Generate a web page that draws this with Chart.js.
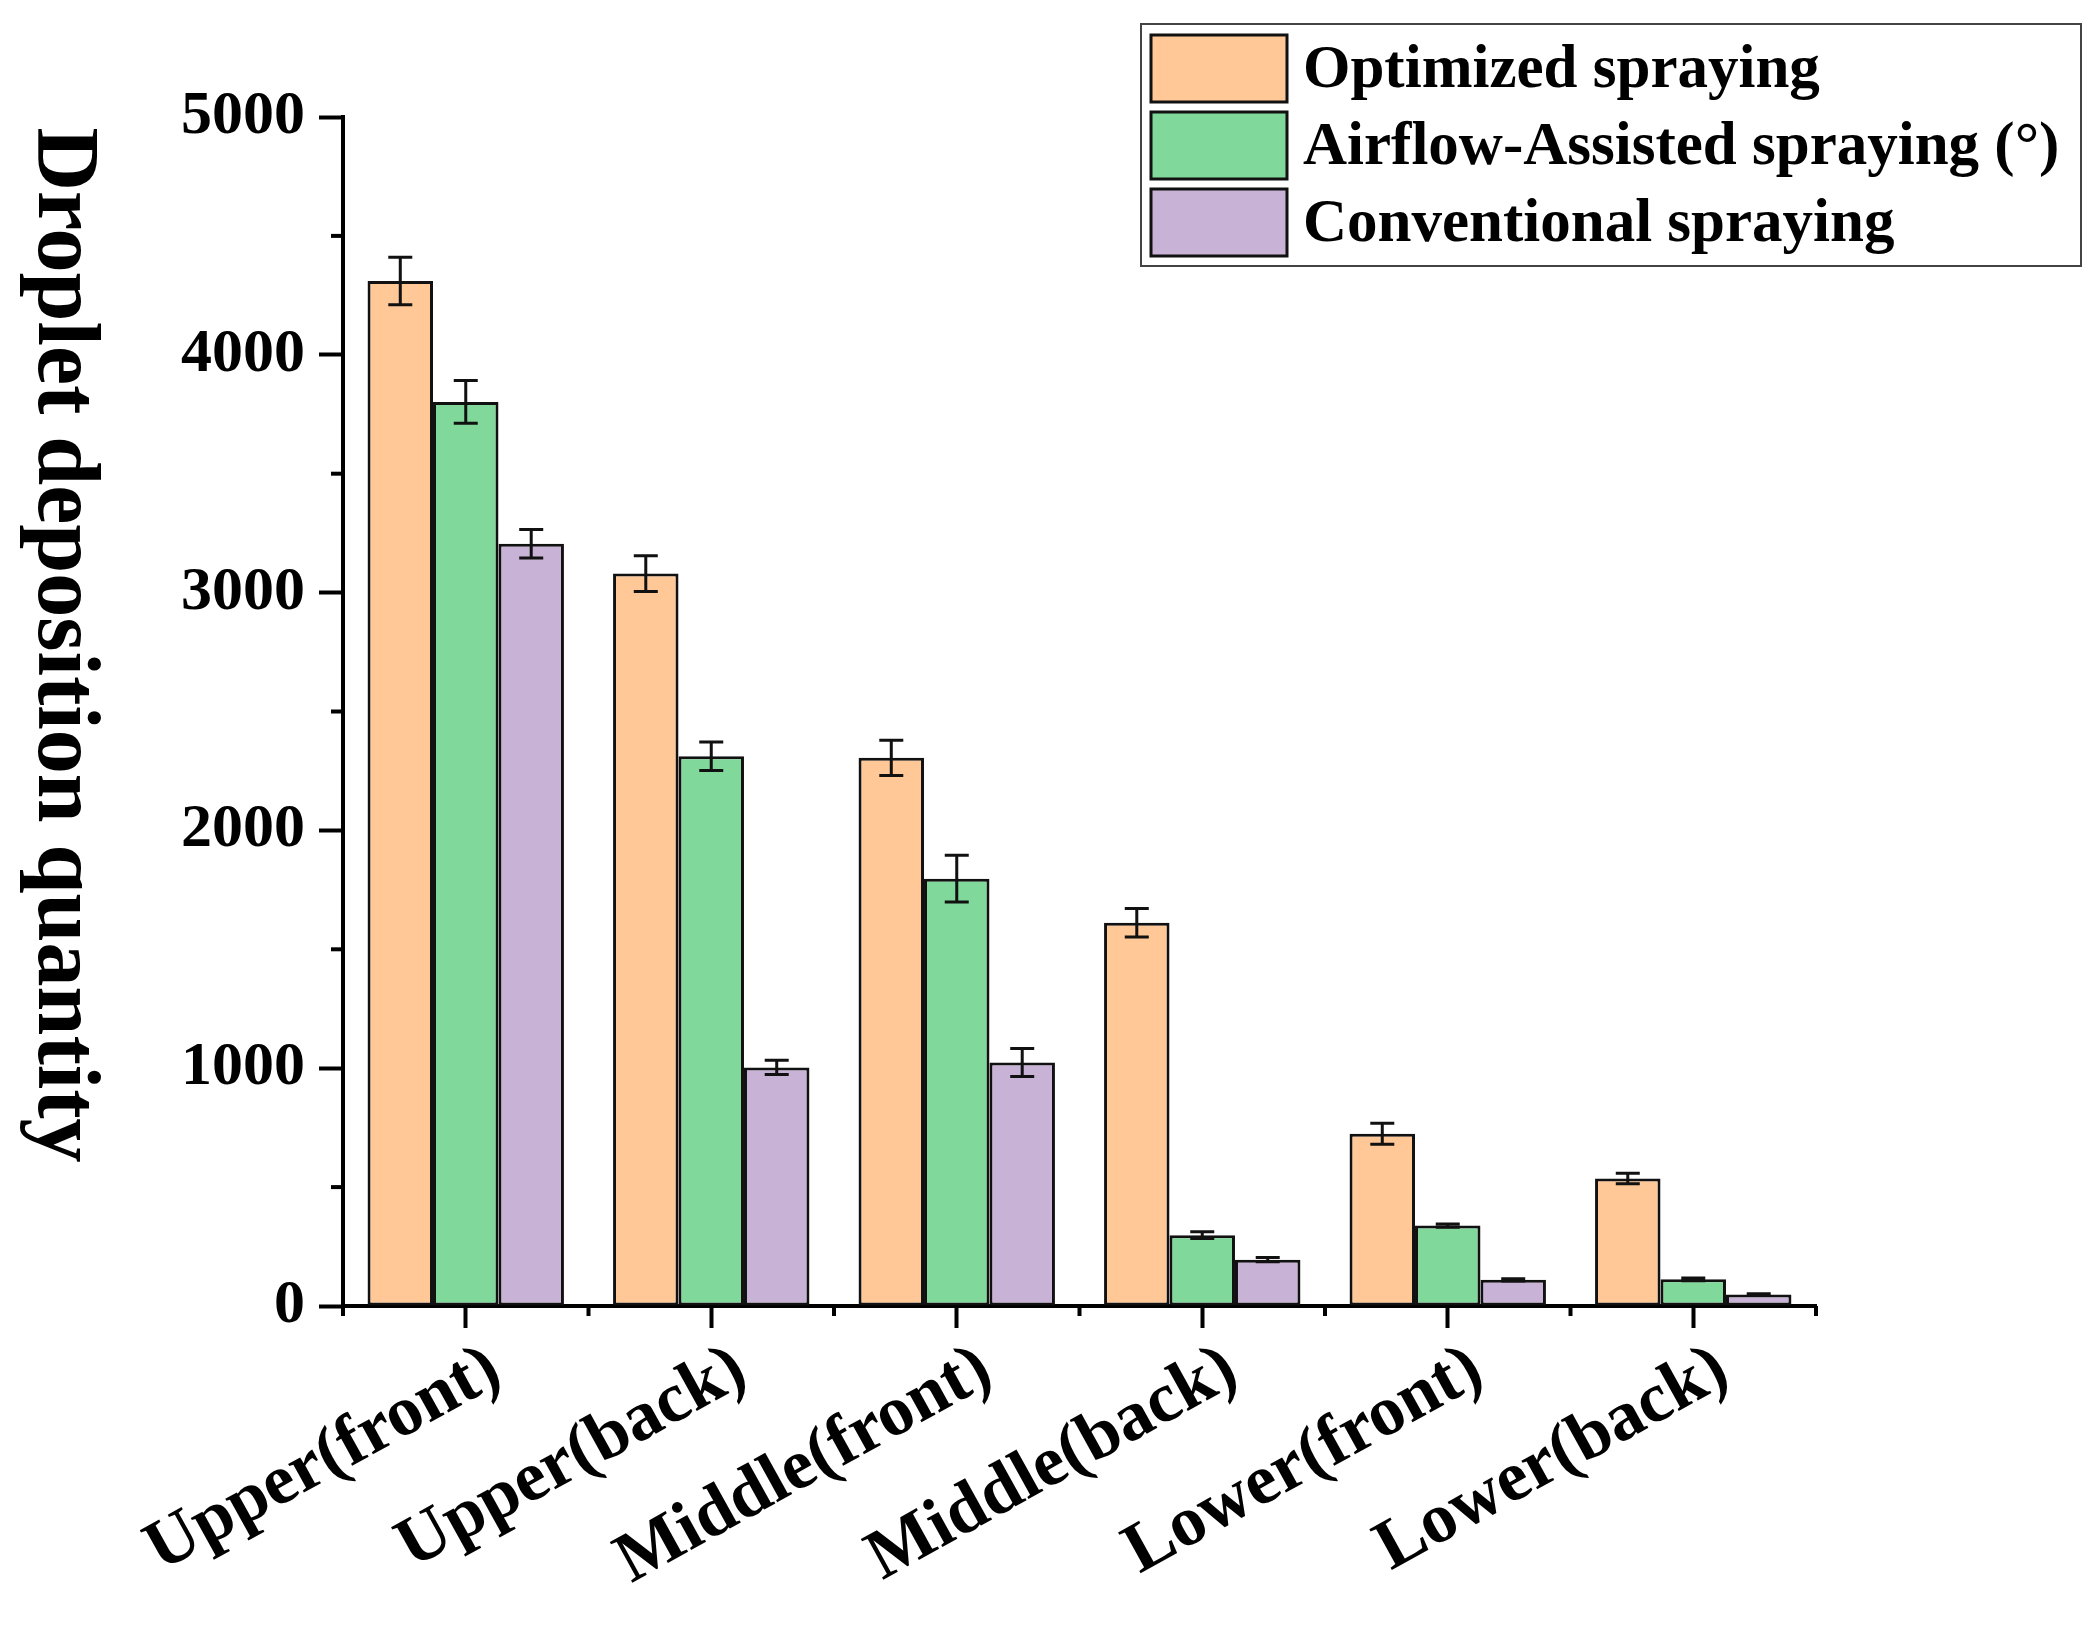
<!DOCTYPE html>
<html>
<head>
<meta charset="utf-8">
<script src="https://cdn.jsdelivr.net/npm/chart.js@4.4.1/dist/chart.umd.min.js"></script>
<style>
  html, body { margin: 0; padding: 0; background: #fff; }
  #chart { display: block; }
</style>
</head>
<body>
<canvas id="chart" width="2096" height="1625"></canvas>
<script>
const categories = ['Upper(front)', 'Upper(back)', 'Middle(front)', 'Middle(back)', 'Lower(front)', 'Lower(back)'];
const seriesNames = ['Optimized spraying', 'Airflow-Assisted spraying (°)', 'Conventional spraying'];
const seriesColors = ['#FFC896', '#80D89A', '#C8B2D6'];

const optimized = [4310, 3080, 2305, 1612, 724, 536];
const airflow = [3802, 2312, 1797, 298, 338, 112];
const conventional = [3205, 1003, 1024, 195, 110, 48];

const optimizedErr = [100, 75, 74, 60, 44, 22];
const airflowErr = [90, 60, 98, 14, 7, 6];
const conventionalErr = [60, 30, 59, 9, 5, 4];

const yMin = 0;
const yMax = 5000;
const yMajorStep = 1000;
const yMinorStep = 500;

const yTitle = 'Droplet deposition quantity';
const serif = '"Liberation Serif", "Times New Roman", serif';

const errors = [optimizedErr, airflowErr, conventionalErr];

// error bars, drawn through the y scale
const errorBars = {
    id: 'errorBars',
    afterDatasetsDraw(chart) {
        const ctx = chart.ctx;
        const y = chart.scales.y;
        ctx.save();
        ctx.strokeStyle = '#111';
        ctx.lineWidth = 3;
        chart.data.datasets.forEach((ds, d) => {
            const meta = chart.getDatasetMeta(d);
            meta.data.forEach((bar, i) => {
                const v = ds.data[i];
                const e = errors[d][i];
                const top = y.getPixelForValue(v + e);
                const bot = y.getPixelForValue(v - e);
                const half = 12;
                ctx.beginPath();
                ctx.moveTo(bar.x, top); ctx.lineTo(bar.x, bot);
                ctx.moveTo(bar.x - half, top); ctx.lineTo(bar.x + half, top);
                ctx.moveTo(bar.x - half, bot); ctx.lineTo(bar.x + half, bot);
                ctx.stroke();
            });
        });
        ctx.restore();
    }
};

// minor ticks, y title and the boxed legend
const extras = {
    id: 'extras',
    afterDraw(chart) {
        const ctx = chart.ctx;
        const x = chart.scales.x;
        const y = chart.scales.y;
        const area = chart.chartArea;
        ctx.save();
        ctx.strokeStyle = '#000';
        ctx.lineWidth = 4;

        // y minor ticks
        for (let v = yMin + yMinorStep; v < yMax; v += yMajorStep) {
            const py = y.getPixelForValue(v);
            ctx.beginPath();
            ctx.moveTo(area.left - 12, py);
            ctx.lineTo(area.left, py);
            ctx.stroke();
        }

        // x minor ticks at category boundaries
        for (let i = 0; i <= categories.length; i++) {
            const px = x.getPixelForValue(i - 0.5);
            ctx.beginPath();
            ctx.moveTo(px, area.bottom);
            ctx.lineTo(px, area.bottom + 10);
            ctx.stroke();
        }

        // y title, reading top to bottom
        ctx.fillStyle = '#000';
        ctx.font = 'bold 88px ' + serif;
        ctx.textAlign = 'center';
        ctx.textBaseline = 'middle';
        ctx.translate(62, 645);
        ctx.rotate(Math.PI / 2);
        ctx.fillText(yTitle, 0, 0);
        ctx.restore();

        // legend
        ctx.save();
        const lx = 1141, ly = 24, lw = 940, lh = 242;
        ctx.strokeStyle = '#444';
        ctx.lineWidth = 2;
        ctx.strokeRect(lx, ly, lw, lh);
        ctx.font = 'bold 61px ' + serif;
        ctx.textAlign = 'left';
        ctx.textBaseline = 'middle';
        chart.data.datasets.forEach((ds, d) => {
            const sy = ly + 11 + d * 77;
            ctx.fillStyle = ds.backgroundColor;
            ctx.fillRect(lx + 10, sy, 136, 67);
            ctx.strokeStyle = '#111';
            ctx.lineWidth = 3;
            ctx.strokeRect(lx + 10, sy, 136, 67);
            ctx.fillStyle = '#000';
            ctx.fillText(ds.label, lx + 162, sy + 36);
        });
        ctx.restore();
    }
};

const seriesData = [optimized, airflow, conventional];

new Chart(document.getElementById('chart'), {
    type: 'bar',
    data: {
        labels: categories,
        datasets: seriesData.map((vals, d) => ({
            label: seriesNames[d],
            data: vals,
            backgroundColor: seriesColors[d],
            borderColor: '#111',
            borderWidth: 3,
            borderSkipped: false,
            categoryPercentage: 0.8,
            barPercentage: 1.0
        }))
    },
    options: {
        responsive: false,
        animation: false,
        devicePixelRatio: 1,
        layout: { padding: { left: 150, top: 117, right: 280, bottom: 0 } },
        plugins: {
            legend: { display: false },
            tooltip: { enabled: false }
        },
        scales: {
            x: {
                afterFit(scale) { scale.height = 319; },
                grid: {
                    offset: false,
                    drawOnChartArea: false,
                    tickLength: 22,
                    tickWidth: 4,
                    tickColor: '#000'
                },
                border: { display: true, color: '#000', width: 4 },
                ticks: {
                    autoSkip: false,
                    minRotation: 29,
                    maxRotation: 29,
                    padding: 0,
                    labelOffset: 30,
                    color: '#000',
                    font: { family: serif, size: 71, weight: 'bold' }
                }
            },
            y: {
                min: yMin,
                max: yMax,
                afterFit(scale) { scale.width = 193; },
                grid: {
                    drawOnChartArea: false,
                    tickLength: 24,
                    tickWidth: 4,
                    tickColor: c => (c.tick && c.tick.value % yMajorStep === 0) ? '#000' : 'rgba(0,0,0,0)'
                },
                border: { display: true, color: '#000', width: 4 },
                ticks: {
                    stepSize: yMinorStep,
                    autoSkip: false,
                    padding: 14,
                    color: '#000',
                    font: { family: serif, size: 62, weight: 'bold' },
                    callback: v => (v % yMajorStep === 0 ? v : '')
                }
            }
        }
    },
    plugins: [errorBars, extras]
});
</script>
</body>
</html>
